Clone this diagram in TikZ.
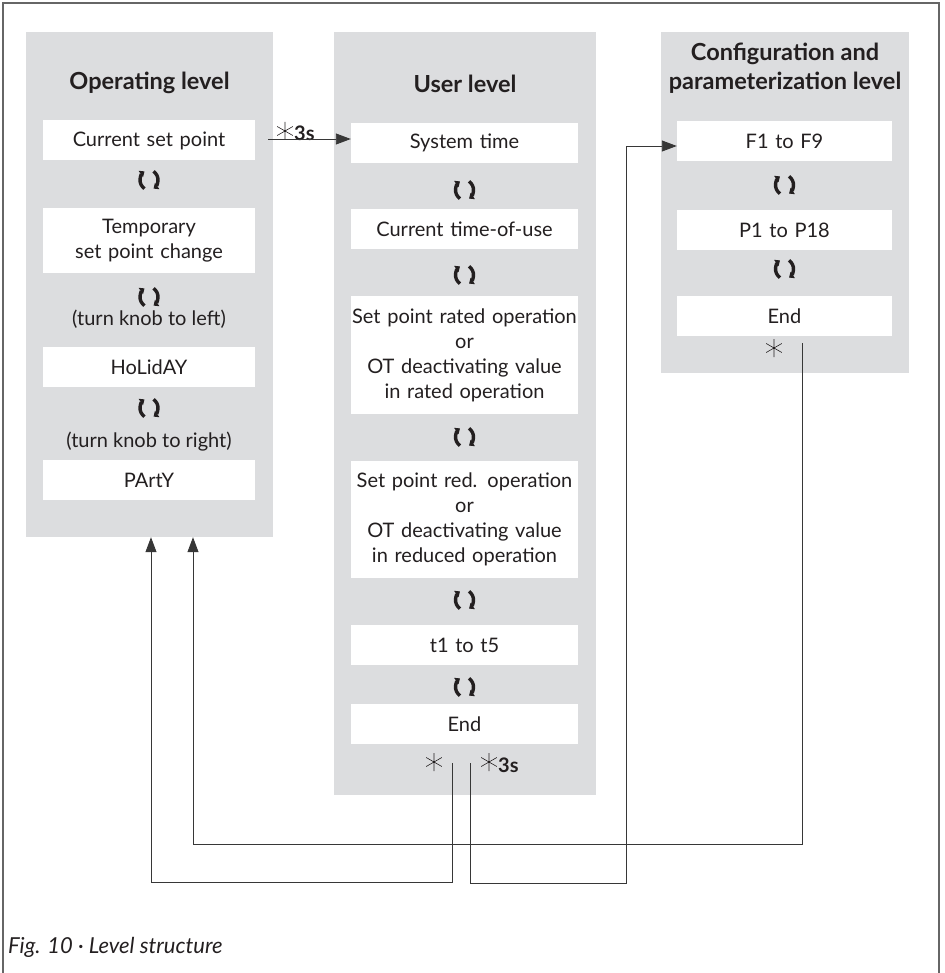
\documentclass[tikz,border=0pt]{standalone}
\usepackage{fontspec}
\setmainfont{Lato}
\usetikzlibrary{arrows.meta}
\definecolor{panelgray}{RGB}{220,221,223}
\definecolor{linegray}{RGB}{55,55,55}
\definecolor{textc}{RGB}{35,31,32}
\tikzset{
	panel/.style={fill=panelgray,inner sep=0},
	item/.style={fill=white,inner xsep=0,inner ysep=0,text width=#1,align=center,text=textc,font=\fontsize{20}{25}\selectfont},
	lvl/.style={font=\fontsize{23.5}{29}\selectfont\bfseries,align=center,text=textc},
	note/.style={font=\fontsize{20}{25}\selectfont,text=textc},
	conn/.style={draw=linegray,line width=0.9},
	knob/.pic={\draw[textc,line width=3.4,-{Triangle[length=4.5pt,width=7.5pt]}] (1.5,0)++(125:10.5) arc[start angle=125,end angle=235,radius=10.5];
		\draw[textc,line width=3.4,-{Triangle[length=4.5pt,width=7.5pt]}] (-1.5,0)++(-55:10.5) arc[start angle=-55,end angle=55,radius=10.5];},
	starsym/.pic={\draw[textc,line width=0.6] (90:9)--(270:9) (30:9)--(210:9) (150:9)--(330:9);}
}
\begin{document}
\begin{tikzpicture}[x=1pt,y=-1pt,>={Triangle[length=15pt,width=11pt]}]
	\useasboundingbox (0,0) rectangle (944,973);
	\draw[draw=black!60,line width=1.5] (3,973) |- (939,3) -- (939,973);
	\node[panel,minimum width=247,minimum height=505] (lp) at (149.5,284.5) {};
	\node[panel,minimum width=262,minimum height=763] (mp) at (465,413.5) {};
	\node[panel,minimum width=248,minimum height=341] (rp) at (785,202.5) {};
	\node[lvl] (ot) at (149.5,83) {Operating level};
	\node[lvl] (ut) at (465,84) {User level};
	\node[lvl] (ct) at (785,68) {Configuration and\\parameterization level};
	\foreach \n/\y/\h/\t in {cur/140.5/40/Current set point,tmp/240.5/65/Temporary\\set point change,hol/367/40/HoLidAY,par/480/40/PArtY}
		\node[item=212,minimum height=\h] (\n) at (149,\y) {\t};
	\foreach \n/\y/\h/\t in {sys/143/40/System time,tou/229.5/40/Current time-of-use,rat/355/118/Set point rated operation\\or\\OT deactivating value\\in rated operation,
		red/519.5/117/Set point red. operation\\or\\OT deactivating value\\in reduced operation,tt/645/40/t1 to t5,uend/724/40/End}
		\node[item=227,minimum height=\h] (\n) at (464.5,\y) {\t};
	\foreach \n/\y/\h/\t in {f/141/40/F1 to F9,p/230.5/40/P1 to P18,rend/316/40/End}
		\node[item=215,minimum height=\h] (\n) at (784.5,\y) {\t};
	\foreach \x/\y in {149/180,149/297,149/408,464.5/190,464.5/275,464.5/437,464.5/600,464.5/687,784.5/185,784.5/269}
		\pic at (\x,\y) {knob};
	\node[note] (tl) at (149,319) {(turn knob to left)};
	\node[note] (tr) at (149,442) {(turn knob to right)};
	\pic at (285,131) {starsym};
	\node[lvl,anchor=west,inner sep=0,font=\fontsize{20}{24}\selectfont\bfseries] (s1) at (294,133) {3s};
	\pic at (434,762) {starsym};
	\pic at (489,762) {starsym};
	\node[lvl,anchor=west,inner sep=0,font=\fontsize{20}{24}\selectfont\bfseries] (s2) at (498,765) {3s};
	\pic at (774,348) {starsym};
	\coordinate (go) at (268,139);
	\coordinate (ul) at (452,763);
	\coordinate (ur) at (470,763);
	\coordinate (re) at (802,343);
	\draw[conn,->] (go) -- (go -| sys.west);
	\draw[conn,->] (re) |- (193,844) -- (193,0 |- lp.south);
	\draw[conn,->] (ul) |- (151,882) -- (151,0 |- lp.south);
	\draw[conn,->] (ur) |- (626,883) |- ([yshift=-5pt]f.west);
	\node[note,anchor=base west,inner sep=0,font=\fontsize{22}{26}\selectfont\itshape] (cap) at (8,953) {Fig. 10 · Level structure};
\end{tikzpicture}
\end{document}
